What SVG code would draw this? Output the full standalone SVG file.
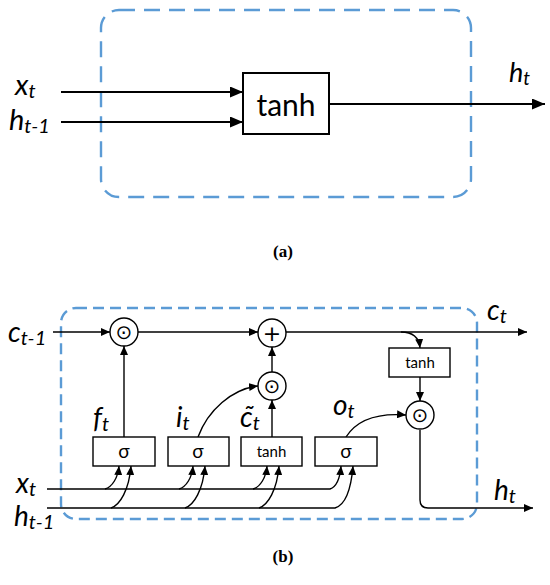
<svg xmlns="http://www.w3.org/2000/svg" width="550" height="585" viewBox="0 0 550 585">
<style>
.bg{fill:#fff}
.dash{fill:none;stroke:#5b9bd5;stroke-width:2.4}
.la{stroke:#000;stroke-width:2;fill:none}
.lb{stroke:#000;stroke-width:1.4;fill:none}
.box{fill:#fff;stroke:#000;stroke-width:1.4}
.boxa{fill:#fff;stroke:#000;stroke-width:2}
.lbl{font-family:Lato,"Open Sans","Liberation Sans",sans-serif;font-style:italic;fill:#000}
.txt{font-family:Lato,"Open Sans","Liberation Sans",sans-serif;fill:#000;text-anchor:middle}
.sym{font-family:"DejaVu Sans",sans-serif;fill:#000;text-anchor:middle}
.cap{font-family:"Liberation Serif",serif;font-weight:bold;font-size:17px;fill:#000;text-anchor:middle}
</style>
<defs>
<marker id="ha" markerUnits="userSpaceOnUse" markerWidth="13" markerHeight="11" refX="13" refY="5.5" orient="auto"><path d="M0,0 L13,5.5 L0,11 z" fill="#000"/></marker>
<marker id="hb" markerUnits="userSpaceOnUse" markerWidth="9" markerHeight="8" refX="9" refY="4" orient="auto"><path d="M0,0 L9,4 L0,8 z" fill="#000"/></marker>
</defs>
<rect class="bg" x="0" y="0" width="550" height="585"/>

<!-- (a) -->
<g id="a-frame"><rect class="dash" x="101" y="10" width="370" height="187" rx="18" stroke-dasharray="16 9"/></g>
<g id="a-connectors">
<path class="la" d="M61,92 H243" marker-end="url(#ha)"/>
<path class="la" d="M61,122 H243" marker-end="url(#ha)"/>
<path class="la" d="M329,104 H545" marker-end="url(#ha)"/>
</g>
<g id="a-tanh"><rect class="boxa" x="243" y="73" width="86" height="61"/><text class="txt" x="286" y="116" font-size="30">tanh</text></g>
<g id="a-labels">
<text class="lbl" x="15" y="95" font-size="29">x<tspan font-size="20" dy="3">t</tspan></text>
<text class="lbl" x="9" y="130" font-size="29">h<tspan font-size="20" dy="3">t-1</tspan></text>
<text class="lbl" x="509" y="82" font-size="27">h<tspan font-size="19" dy="3">t</tspan></text>
</g>
<text class="cap" x="283" y="257">(a)</text>

<!-- (b) -->
<g id="b-frame"><rect class="dash" x="61" y="308" width="416" height="211" rx="15" stroke-dasharray="11 6"/></g>
<g id="b-connectors">
<path class="lb" d="M53,332 H110" marker-end="url(#hb)"/>
<path class="lb" d="M138,332 H258" marker-end="url(#hb)"/>
<path class="lb" d="M286,332 H527" marker-end="url(#hb)"/>
<path class="lb" d="M401,332 C413,332 419,337 420,348" marker-end="url(#hb)"/>
<path class="lb" d="M420,377 V401" marker-end="url(#hb)"/>
<path class="lb" d="M420,430 V500 Q420,508 428,508 H533" marker-end="url(#hb)"/>
<path class="lb" d="M124,437 V346" marker-end="url(#hb)"/>
<path class="lb" d="M198,437 C208,410 232,389 258,386" marker-end="url(#hb)"/>
<path class="lb" d="M272,437 V400" marker-end="url(#hb)"/>
<path class="lb" d="M272,372 V347" marker-end="url(#hb)"/>
<path class="lb" d="M346,437 C358,418 380,413 406,415" marker-end="url(#hb)"/>
<path class="lb" d="M47,489 H330 C336,487 340,478 341,466" marker-end="url(#hb)"/>
<path class="lb" d="M47,508 H335 C345,505 351,490 353,466" marker-end="url(#hb)"/>
<path class="lb" d="M105,489 C112,487 118,478 119,466" marker-end="url(#hb)"/>
<path class="lb" d="M111,508 C120,505 129,490 131,466" marker-end="url(#hb)"/>
<path class="lb" d="M179,489 C186,487 192,478 193,466" marker-end="url(#hb)"/>
<path class="lb" d="M185,508 C194,505 203,490 205,466" marker-end="url(#hb)"/>
<path class="lb" d="M253,489 C260,487 266,478 267,466" marker-end="url(#hb)"/>
<path class="lb" d="M259,508 C268,505 277,490 279,466" marker-end="url(#hb)"/>
</g>
<g id="b-mul1"><circle class="box" cx="124" cy="332" r="14"/><text class="sym" x="124" y="339" font-size="20">⊙</text></g>
<g id="b-add"><circle class="box" cx="272" cy="333" r="14"/><text class="sym" x="272" y="341" font-size="22">+</text></g>
<g id="b-mul2"><circle class="box" cx="272" cy="386" r="14"/><text class="sym" x="272" y="393" font-size="20">⊙</text></g>
<g id="b-mul3"><circle class="box" cx="420" cy="415" r="14"/><text class="sym" x="420" y="422" font-size="20">⊙</text></g>
<g id="b-tanh-c"><rect class="box" x="389" y="348" width="61" height="29"/><text class="txt" x="420" y="368" font-size="15">tanh</text></g>
<g id="b-sig-f"><rect class="box" x="93" y="437" width="62" height="29"/><text class="txt" x="124" y="458" font-size="19">σ</text></g>
<g id="b-sig-i"><rect class="box" x="168" y="437" width="61" height="29"/><text class="txt" x="198" y="458" font-size="19">σ</text></g>
<g id="b-tanh-g"><rect class="box" x="241" y="437" width="61" height="29"/><text class="txt" x="271.5" y="457" font-size="15">tanh</text></g>
<g id="b-sig-o"><rect class="box" x="315" y="437" width="62" height="29"/><text class="txt" x="346" y="458" font-size="19">σ</text></g>
<g id="b-labels">
<text class="lbl" x="8" y="342" font-size="28">c<tspan font-size="20" dy="3">t-1</tspan></text>
<text class="lbl" x="487" y="320" font-size="28">c<tspan font-size="20" dy="3">t</tspan></text>
<text class="lbl" x="93" y="428" font-size="28">f<tspan font-size="20" dy="3">t</tspan></text>
<text class="lbl" x="176" y="427" font-size="28">i<tspan font-size="20" dy="3">t</tspan></text>
<text class="lbl" x="240" y="427" font-size="28">c̃<tspan font-size="20" dy="3">t</tspan></text>
<text class="lbl" x="333" y="415" font-size="28">o<tspan font-size="20" dy="3">t</tspan></text>
<text class="lbl" x="16" y="493" font-size="28">x<tspan font-size="20" dy="3">t</tspan></text>
<text class="lbl" x="14" y="526" font-size="28">h<tspan font-size="20" dy="3">t-1</tspan></text>
<text class="lbl" x="494" y="500" font-size="28">h<tspan font-size="20" dy="3">t</tspan></text>
</g>
<text class="cap" x="283" y="562">(b)</text>
</svg>
